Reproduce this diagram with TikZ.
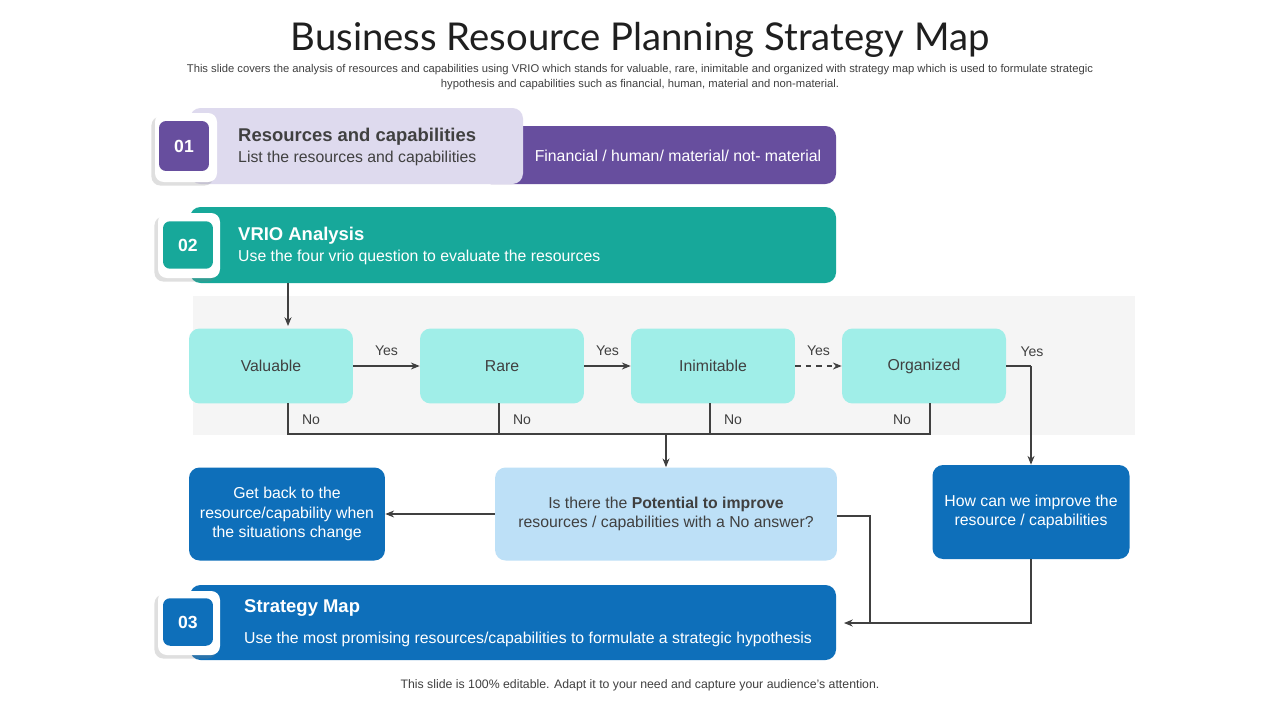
\documentclass[tikz,border=0pt]{standalone}
\usepackage{fontspec}
\setmainfont{Liberation Sans}
\newfontfamily\titlefont{Lato}
\usetikzlibrary{arrows.meta,shadows}
\definecolor{purp}{HTML}{674E9E}
\definecolor{lav}{HTML}{DEDAEE}
\definecolor{teal}{HTML}{17A89A}
\definecolor{aqua}{HTML}{A0EEE8}
\definecolor{lblue}{HTML}{BDE0F7}
\definecolor{dblue}{HTML}{0E6FBA}
\definecolor{txt}{HTML}{404040}
\tikzset{
 px/.style={x=0.02cm,y=-0.02cm},
 rbox/.style={rounded corners=6pt},
 tile/.style={fill=white,rounded corners=5pt,drop shadow={shadow xshift=-2pt,shadow yshift=-2pt,opacity=0.25}},
 numtile/.style={rounded corners=4pt,text=white,font=\fontsize{10}{12}\selectfont\bfseries},
 qbox/.style={rbox,fill=aqua,text=txt,font=\fontsize{9}{11}\selectfont},
 arr/.style={draw=txt,line width=0.6pt,-{Stealth[length=5pt,width=4pt]}},
 ln/.style={draw=txt,line width=0.6pt},
 lbl/.style={text=txt,font=\fontsize{8}{10}\selectfont},
 bodyw/.style={text=white,font=\fontsize{9}{11}\selectfont,anchor=west},
 headw/.style={text=white,font=\fontsize{10.5}{12}\selectfont\bfseries,anchor=west},
}
\begin{document}
\begin{tikzpicture}[px]
\useasboundingbox[fill=white] (0,0) rectangle (1280,720);
\node[font=\titlefont\fontsize{21.8}{26}\selectfont,text=black!88] (title) at (640,40) {Business Resource Planning Strategy Map};
\node[font=\fontsize{6.4}{8.6}\selectfont,text=txt,align=center] (sub) at (640,77) {This slide covers the analysis of resources and capabilities using VRIO which stands for valuable, rare, inimitable and organized with strategy map which is used to formulate strategic\\hypothesis and capabilities such as financial, human, material and non-material.};
% row 1
\fill[purp,rbox] (480,126) rectangle (836,184);
\node[text=white,font=\fontsize{9}{11}\selectfont] (fin) at (678,156) {Financial / human/ material/ not- material};
\fill[lav,rbox] (190,108) rectangle (523,184);
\fill[tile] (155,113) rectangle (217,182);
\node[numtile,fill=purp,minimum width=1cm,minimum height=1cm] (n1) at (184,146) {01};
\node[text=txt,font=\fontsize{10.5}{12}\selectfont\bfseries,anchor=west] (h1) at (232,137) {Resources and capabilities};
\node[text=txt,font=\fontsize{9}{11}\selectfont,anchor=west] (b1) at (232,158) {List the resources and capabilities};
% row 2
\fill[teal,rbox] (190,207) rectangle (836,283);
\fill[tile] (158,213) rectangle (220,278);
\node[numtile,fill=teal,minimum width=1cm,minimum height=0.95cm] (n2) at (188,245) {02};
\node[headw] (h2) at (232,236) {VRIO Analysis};
\node[bodyw] (b2) at (232,257) {Use the four vrio question to evaluate the resources};
% band
\fill[black!4] (193,296) rectangle (1135,435);
\node[qbox,minimum width=3.28cm,minimum height=1.5cm] (v) at (271,366) {Valuable};
\node[qbox,minimum width=3.28cm,minimum height=1.5cm] (r) at (502,366) {Rare};
\node[qbox,minimum width=3.28cm,minimum height=1.5cm] (i) at (713,366) {Inimitable};
\node[qbox,minimum width=3.28cm,minimum height=1.5cm] (o) at (924,366) {Organized};
\coordinate (top) at (288,283);
\draw[arr] (top) -- (288,326);
\draw[arr] (v) -- (r) node[lbl,midway,above=2pt] {Yes};
\draw[arr] (r) -- (i) node[lbl,midway,above=2pt] {Yes};
\draw[arr,dashed] (i) -- (o) node[lbl,midway,above=2pt] {Yes};
\node[lbl] (y4) at (1032,352) {Yes};
% bottom row nodes
\node[rbox,fill=lblue,minimum width=6.84cm,minimum height=1.86cm,text=txt,font=\fontsize{9}{11}\selectfont,align=center] (pot) at (666,514) {Is there the \textbf{Potential to improve}\\resources / capabilities with a No answer?};
\node[rbox,fill=dblue,minimum width=3.92cm,minimum height=1.86cm,text=white,font=\fontsize{9}{11}\selectfont,align=center] (gb) at (287,514) {Get back to the\\resource/capability when\\the situations change};
\node[rbox,fill=dblue,minimum width=3.94cm,minimum height=1.88cm,text=white,font=\fontsize{9}{11}\selectfont,align=center] (how) at (1031,512) {How can we improve the\\resource / capabilities};
\draw[ln] (o.east) -- (1031,366);
\draw[arr] (1031,366) -- (how.north);
% No lines
\draw[ln] (288,403) -- (288,434) -- (930,434) -- (930,403);
\draw[ln] (499,403) -- (499,434);
\draw[ln] (710,403) -- (710,434);
\draw[arr] (666,434) -- (pot.north);
\node[lbl] at (311,420) {No};
\node[lbl] at (522,420) {No};
\node[lbl] at (733,420) {No};
\node[lbl] at (902,420) {No};
\draw[arr] (pot.west) -- (gb.east);
% row 3
\fill[dblue,rbox] (190,585) rectangle (836,660);
\fill[tile] (158,591) rectangle (220,655);
\node[numtile,fill=dblue,minimum width=1cm,minimum height=0.95cm] (n3) at (188,622) {03};
\node[headw] (h3) at (238,608) {Strategy Map};
\node[bodyw] (b3) at (238,639) {Use the most promising resources/capabilities to formulate a strategic hypothesis};
\coordinate (sm) at (844,623);
\draw[ln] (pot.east |- 0,516) -- (870,516) -- (870,623);
\draw[ln] (how.south) -- (1031,623) -- (870,623);
\draw[arr] (870,623) -- (sm);
\node[text=txt,font=\fontsize{7}{9}\selectfont] (foot) at (640,685) {This slide is 100\% editable. Adapt it to your need and capture your audience's attention.};
\end{tikzpicture}
\end{document}
